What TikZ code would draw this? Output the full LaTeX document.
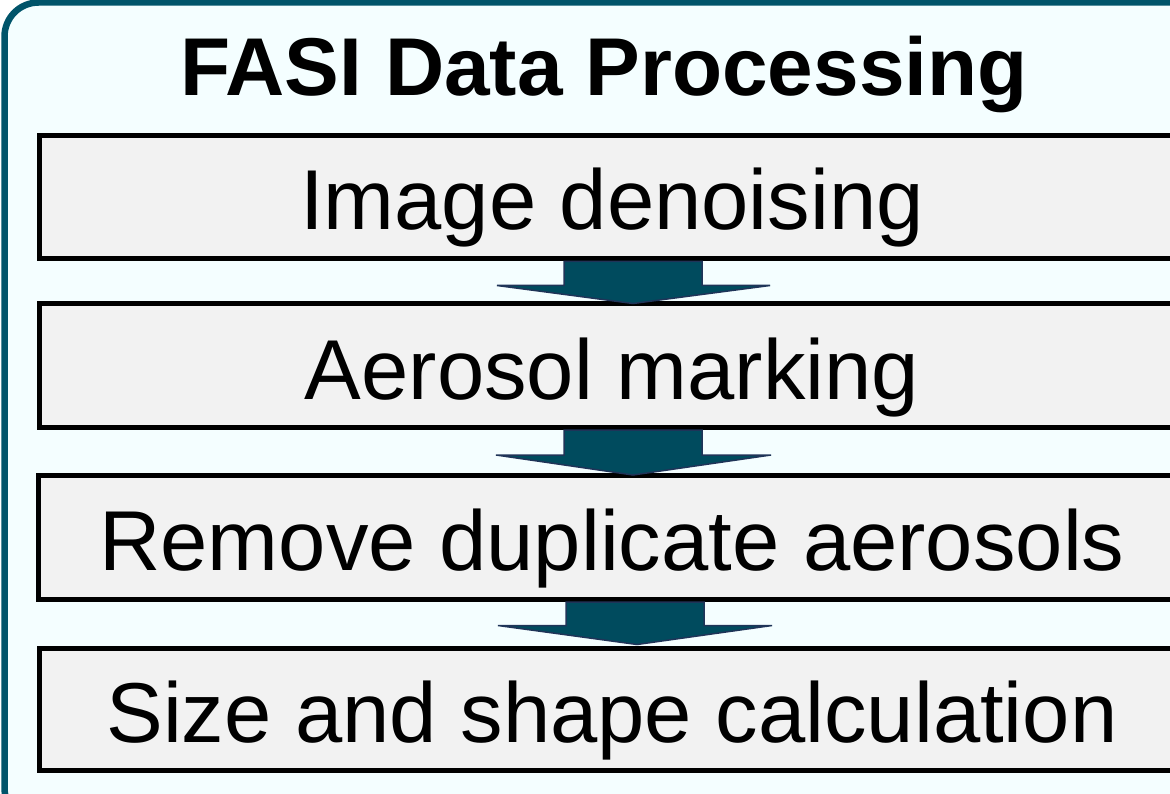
\documentclass[tikz,border=0pt]{standalone}
\usepackage{fontspec}
\setmainfont{Liberation Sans}
\begin{document}
\begin{tikzpicture}[x=1pt,y=-1pt,
  outerbox/.style={draw=teal1, line width=6.5pt, fill=bgcyan, rounded corners=34pt},
  stepbox/.style={draw=black, line width=5pt, fill=boxgray, minimum width=1146pt, inner sep=0pt},
  steptext/.style={anchor=base, inner sep=0pt, font=\fontsize{85}{100}\selectfont},
  titletext/.style={anchor=base, inner sep=0pt, font=\fontsize{82}{96}\bfseries\selectfont},
  blockarrow/.style={fill=arrowfill, draw=arrowline, line width=1.5pt, line join=miter}
]
\definecolor{teal1}{HTML}{00546A}
\definecolor{bgcyan}{HTML}{F4FEFF}
\definecolor{boxgray}{HTML}{F2F2F2}
\definecolor{arrowfill}{HTML}{004B5E}
\definecolor{arrowline}{HTML}{1F3458}
\useasboundingbox (0,0) rectangle (1170,794);
\clip (0,0) rectangle (1170,794);
\draw[outerbox] (4.5,2.5) rectangle (1210,822);

\node[titletext] (title) at (604,96) {FASI Data Processing};

\node[stepbox, minimum height=123.5pt] (box1) at (612,197.25) {};
\node[stepbox, minimum height=123.5pt] (box2) at (612,365.75) {};
\node[stepbox, minimum height=124pt] (box3) at (611,537.5) {};
\node[stepbox, minimum height=122pt] (box4) at (612,709) {};

\node[steptext] (t1) at (612,230) {Image denoising};
\node[steptext] (t2) at (612,399) {Aerosol marking};
\node[steptext] (t3) at (612,570) {Remove duplicate aerosols};
\node[steptext] (t4) at (612,742) {Size and shape calculation};

\draw[blockarrow] ([xshift=-48pt]box1.south) -- ([xshift=-48pt,yshift=-24pt]box1.south)
  -- ([xshift=-115pt,yshift=-24pt]box1.south) -- ([xshift=21pt,yshift=-2pt]box2.north)
  -- ([xshift=158pt,yshift=-24pt]box1.south) -- ([xshift=90pt,yshift=-24pt]box1.south)
  -- ([xshift=90pt]box1.south) -- cycle;
\draw[blockarrow] ([xshift=-48pt]box2.south) -- ([xshift=-48pt,yshift=-25pt]box2.south)
  -- ([xshift=-116pt,yshift=-25pt]box2.south) -- ([xshift=22pt,yshift=-2pt]box3.north)
  -- ([xshift=159pt,yshift=-25pt]box2.south) -- ([xshift=90pt,yshift=-25pt]box2.south)
  -- ([xshift=90pt]box2.south) -- cycle;
\draw[blockarrow] ([xshift=-45pt]box3.south) -- ([xshift=-45pt,yshift=-23.5pt]box3.south)
  -- ([xshift=-113pt,yshift=-23.5pt]box3.south) -- ([xshift=25pt,yshift=1pt]box4.north)
  -- ([xshift=161pt,yshift=-23.5pt]box3.south) -- ([xshift=93pt,yshift=-23.5pt]box3.south)
  -- ([xshift=93pt]box3.south) -- cycle;
\end{tikzpicture}
\end{document}
